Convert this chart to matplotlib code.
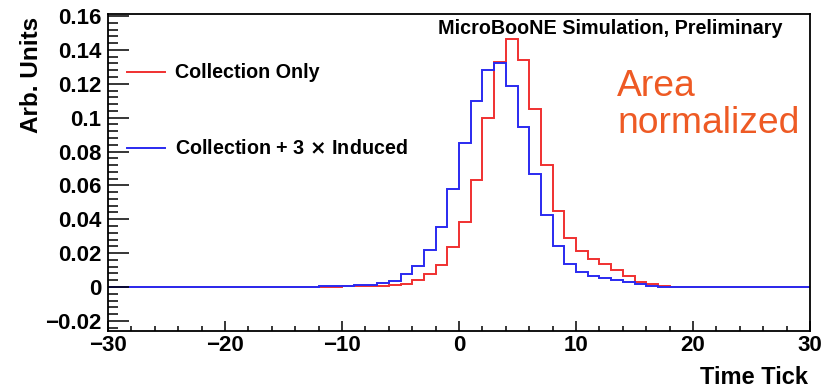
import numpy as np
import matplotlib
matplotlib.use("Agg")
import matplotlib.pyplot as plt
from matplotlib.ticker import MultipleLocator, FuncFormatter

plt.rcParams["font.family"] = ["Liberation Sans", "DejaVu Sans"]
plt.rcParams["font.weight"] = "bold"

# Histogram binning: unit-width time ticks from -30 to 30
x_min, x_max = -30, 30
first_filled_bin = -12  # left edge of the first listed bin

collection_only = [
    0.0002, 0.0002, 0.0003, 0.0004, 0.0005, 0.0007, 0.0010, 0.0016,
    0.0041, 0.0077, 0.0130, 0.0238, 0.0386, 0.0632, 0.0996, 0.1326,
    0.1464, 0.1340, 0.1049, 0.0720, 0.0449, 0.0287, 0.0213, 0.0165,
    0.0136, 0.0100, 0.0065, 0.0031, 0.0016, 0.0006, 0.0002,
]
collection_plus_induced = [
    0.0003, 0.0004, 0.0006, 0.0009, 0.0014, 0.0022, 0.0035, 0.0077,
    0.0124, 0.0218, 0.0356, 0.0579, 0.0848, 0.1098, 0.1280, 0.1320,
    0.1188, 0.0946, 0.0667, 0.0425, 0.0242, 0.0136, 0.0090, 0.0067,
    0.0055, 0.0041, 0.0028, 0.0016, 0.0006, 0.0002, 0.0000,
]

series_labels = ["Collection Only", "Collection + 3 $\\times$ Induced"]
series_colors = ["#f03030", "#2a2af0"]

edges = np.arange(x_min, x_max + 1)


def full_bins(values):
    out = np.zeros(len(edges) - 1)
    start = first_filled_bin - x_min
    out[start:start + len(values)] = values
    return out


W, H = 823, 389
fig = plt.figure(figsize=(W / 100, H / 100), dpi=100)
ax = fig.add_axes([108 / W, 1 - 331 / H, 702 / W, 317 / H])

h_red = full_bins(collection_only)
h_blue = full_bins(collection_plus_induced)
ax.stairs(h_red, edges, color=series_colors[0], lw=1.4, baseline=None)
ax.stairs(h_blue, edges, color=series_colors[1], lw=1.4, baseline=None)

ax.set_xlim(x_min, x_max)
ax.set_ylim(-0.026, 0.1612)

for s in ax.spines.values():
    s.set_linewidth(1.3)
    s.set_color("black")

ax.xaxis.set_major_locator(MultipleLocator(10))
ax.xaxis.set_minor_locator(MultipleLocator(2))
ax.yaxis.set_major_locator(MultipleLocator(0.02))
ax.yaxis.set_minor_locator(MultipleLocator(0.004))


def fmt(v, _):
    s = f"{round(v, 6):g}"
    return s.replace("-", "\u2212")


ax.xaxis.set_major_formatter(FuncFormatter(fmt))
ax.yaxis.set_major_formatter(FuncFormatter(fmt))

ax.tick_params(axis="both", which="both", direction="in", top=False, right=False,
               width=1.1, labelsize=16)
ax.tick_params(axis="x", which="major", length=7, pad=3)
ax.tick_params(axis="x", which="minor", length=3.5)
ax.tick_params(axis="y", which="major", length=15, pad=5)
ax.tick_params(axis="y", which="minor", length=7.5)

# Axis titles
fig.text(31 / W, 1 - 17 / H, "Arb. Units", rotation=90, ha="center", va="top",
         fontsize=17.5, fontweight="bold")
fig.text(808 / W, 1 - 378 / H, "Time Tick", ha="right", va="center",
         fontsize=17, fontweight="bold")

# Legend
leg_y = [72, 148]
for lab, col, yy in zip(series_labels, series_colors, leg_y):
    fig.add_artist(plt.Line2D([127 / W, 165 / W], [1 - yy / H, 1 - yy / H],
                              color=col, lw=1.4))
    fig.text(175 / W, 1 - yy / H, lab, ha="left", va="center",
             fontsize=14.2, fontweight="bold")

fig.text(783 / W, 1 - 28 / H, "MicroBooNE Simulation, Preliminary",
         ha="right", va="center", fontsize=14.2, fontweight="bold")

# Normalisation note
note_color = "#ee5a24"
fig.text(617 / W, 1 - 96 / H, "Area", ha="left", va="baseline",
         fontsize=26.8, fontweight="normal", color=note_color)
fig.text(617 / W, 1 - 133 / H, "normalized", ha="left", va="baseline",
         fontsize=26.8, fontweight="normal", color=note_color)

fig.savefig("out.png", dpi=100)
